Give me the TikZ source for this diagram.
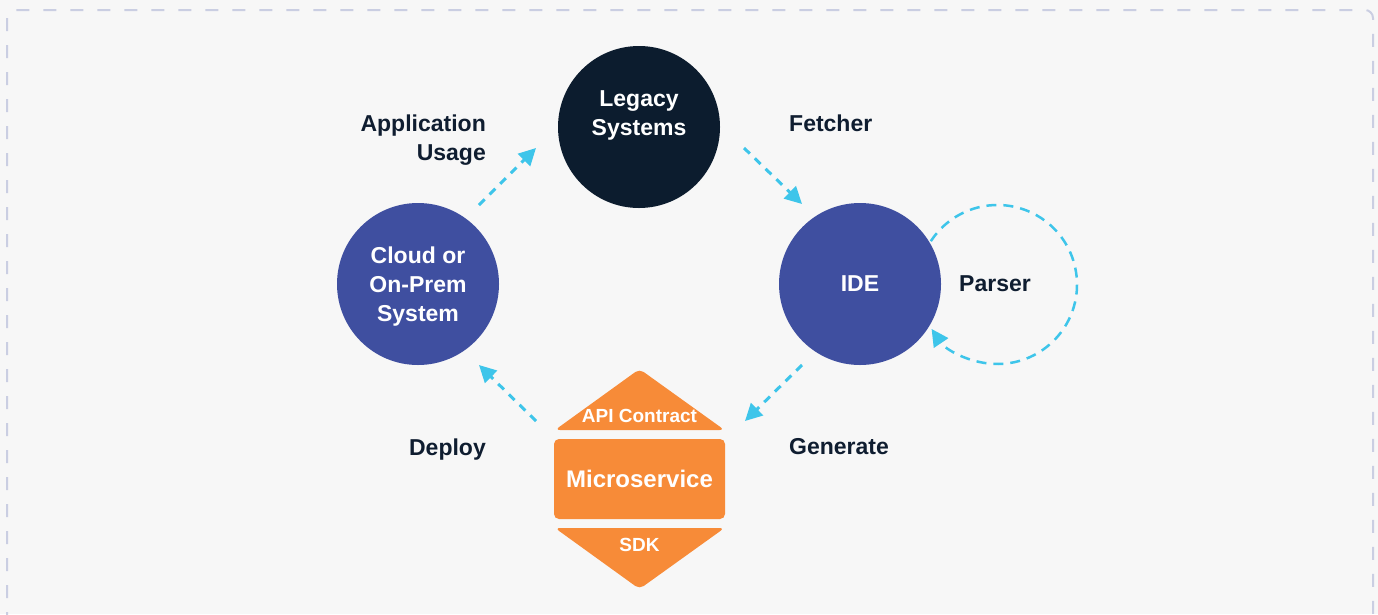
\documentclass[tikz,border=0pt]{standalone}
\usepackage{fontspec}
\setmainfont{Liberation Sans}
\usetikzlibrary{arrows.meta}

\definecolor{bg}{HTML}{F7F7F7}
\definecolor{navy}{HTML}{0C1C2E}
\definecolor{indigo}{HTML}{3F4FA0}
\definecolor{tangerine}{HTML}{F78B38}
\definecolor{sky}{HTML}{3EC5EA}
\definecolor{framecol}{HTML}{CACEE2}
\definecolor{ink}{HTML}{0F1D30}

\begin{document}
\begin{tikzpicture}[x=1pt,y=-1pt,
  hub/.style={circle, minimum size=162pt, inner sep=0pt},
  hubtext/.style={text=white, inner sep=0pt, align=center,
    font=\bfseries\fontsize{23}{29}\selectfont},
  lbl/.style={text=ink, inner sep=0pt,
    font=\bfseries\fontsize{23}{29}\selectfont},
  blocktext/.style={text=white, inner sep=0pt},
  flow/.style={draw=sky, line width=3pt, dash pattern=on 8pt off 7pt,
    -{Triangle[length=17pt,width=17pt]}},
  loopflow/.style={draw=sky, line width=2.5pt, dash pattern=on 10pt off 7pt,
    -{Triangle[length=17pt,width=17pt]}}]

% canvas and dashed frame
\useasboundingbox (0,0) rectangle (1378,614);
\fill[bg] (0,0) rectangle (1378,614);
\begin{scope}
  \clip (0,0) rectangle (1378,614);
  \draw[framecol, line width=2pt, dash pattern=on 13pt off 14pt, rounded corners=8pt]
    (7,10) rectangle (1373,622);
\end{scope}

% the three systems
\node[hub, fill=navy]   (legacy) at (639,127) {};
\node[hub, fill=indigo] (cloud)  at (418,284) {};
\node[hub, fill=indigo] (ide)    at (860,284) {};

\node[hubtext] (legacyt) at (639,115)   {Legacy\\Systems};
\node[hubtext] (cloudt)  at (418,286.4) {Cloud or\\On-Prem\\System};
\node[hubtext] (idet)    at (860,284)   {IDE};

% microservice stack
\fill[tangerine, rounded corners=5pt] (555,430) -- (639.5,369) -- (724.5,430) -- cycle;
\node[fill=tangerine, rounded corners=5pt, minimum width=171pt, minimum height=80pt,
      inner sep=0pt] (micro) at (639.5,479) {};
\fill[tangerine, rounded corners=5pt] (555,528) -- (724.5,528) -- (639.5,589) -- cycle;

\node[blocktext, font=\bfseries\fontsize{19}{22}\selectfont] (api) at (639.5,416) {API Contract};
\node[blocktext, font=\bfseries\fontsize{24}{28}\selectfont] (microt) at (639.5,479) {Microservice};
\node[blocktext, font=\bfseries\fontsize{19}{22}\selectfont] (sdk) at (639.5,545) {SDK};

% step labels
\node[lbl, anchor=east, align=right] (usage) at (486,139.9) {Application\\Usage};
\node[lbl, anchor=west] (fetcher)  at (789,123)   {Fetcher};
\node[lbl, anchor=west] (parser)   at (959,284)   {Parser};
\node[lbl, anchor=east] (deploy)   at (486,449.4) {Deploy};
\node[lbl, anchor=west] (generate) at (789,447)   {Generate};

% connector end points
\coordinate (c1a) at (479,205);
\coordinate (c1b) at (536,148);
\coordinate (c2a) at (744,148);
\coordinate (c2b) at (802,204);
\coordinate (c3a) at (802,365);
\coordinate (c3b) at (745,421);
\coordinate (c4a) at (536,421);
\coordinate (c4b) at (479,365);
\coordinate (loopc) at (997.5,284.5);

\draw[flow] (c1a) -- (c1b);
\draw[flow] (c2a) -- (c2b);
\draw[flow] (c3a) -- (c3b);
\draw[flow] (c4a) -- (c4b);

% parser loop back into the IDE
\draw[loopflow] (loopc) ++(-147:79.5) arc[start angle=-147, end angle=146, radius=79.5];

\end{tikzpicture}
\end{document}
